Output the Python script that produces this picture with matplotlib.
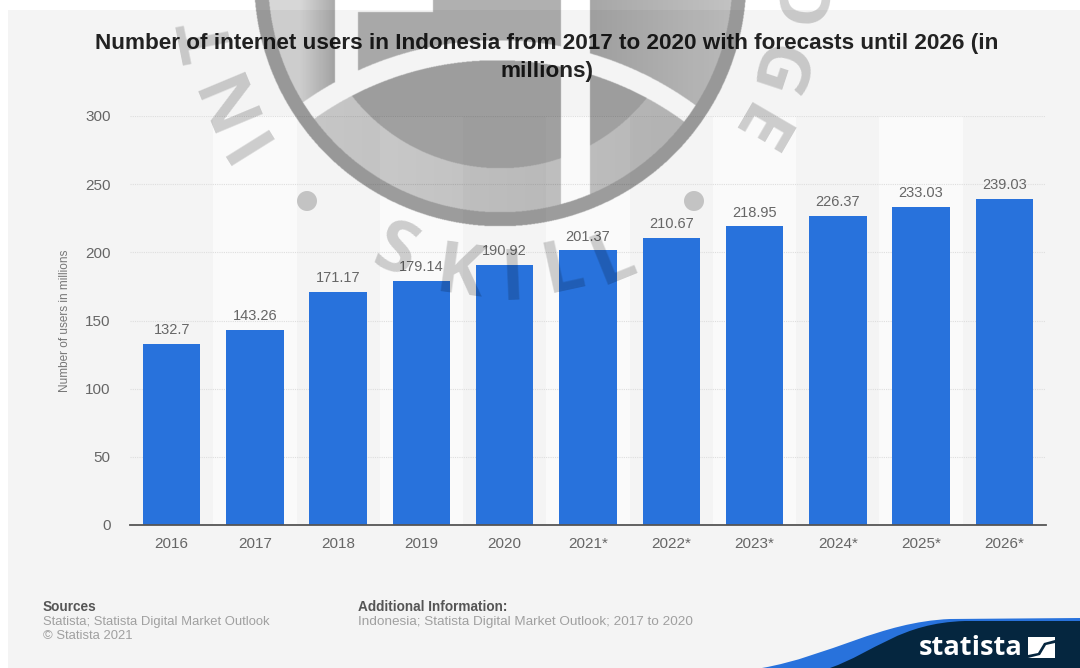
import numpy as np
import matplotlib
matplotlib.use('Agg')
import matplotlib.pyplot as plt
from matplotlib.patches import Rectangle, Polygon, PathPatch
from matplotlib.path import Path

years = ['2016', '2017', '2018', '2019', '2020', '2021*', '2022*', '2023*', '2024*', '2025*', '2026*']
users = [132.7, 143.26, 171.17, 179.14, 190.92, 201.37, 210.67, 218.95, 226.37, 233.03, 239.03]
value_labels = ['132.7', '143.26', '171.17', '179.14', '190.92', '201.37', '210.67', '218.95', '226.37', '233.03', '239.03']
y_ticks = [0, 50, 100, 150, 200, 250, 300]

W, H = 1080, 668
plt.rcParams['font.family'] = ['Liberation Sans', 'DejaVu Sans']
fig = plt.figure(figsize=(W / 100, H / 100), dpi=100, facecolor='white')

# page background, drawn in pixel coordinates
page = fig.add_axes([0, 0, 1, 1], zorder=0)
page.set_xlim(0, W)
page.set_ylim(H, 0)
page.axis('off')
page.add_patch(Rectangle((8, 10), W - 8, H - 10, color='#f4f4f4', lw=0))

# main chart
ax = fig.add_axes([130 / W, 1 - 525 / H, 916 / W, 409 / H], zorder=1)
ax.patch.set_alpha(0)
xs = np.arange(len(years))
for i in xs[1::2]:
    ax.axvspan(i - 0.5, i + 0.5, color='#fafafa', lw=0, zorder=0)
ax.bar(xs, users, width=0.69, color='#2872dc', zorder=3)
for x, v, lab in zip(xs, users, value_labels):
    ax.annotate(lab, (x, v), xytext=(0, 5), textcoords='offset points', ha='center', va='bottom',
                fontsize=10.5, color='#666666', zorder=4)
ax.set_xlim(-0.5, 10.5)
ax.set_ylim(0, 300)
ax.set_yticks(y_ticks)
ax.set_xticks(xs)
ax.set_xticklabels(years)
ax.tick_params(axis='both', length=0, labelsize=11, labelcolor='#666666')
ax.tick_params(axis='x', pad=9)
ax.tick_params(axis='y', pad=14)
ax.grid(axis='y', color='#dedede', lw=0.8, ls=(0, (1, 1)), zorder=1)
ax.set_axisbelow(True)
for s in ['top', 'right', 'left']:
    ax.spines[s].set_visible(False)
ax.spines['bottom'].set_color('#555555')
ax.spines['bottom'].set_linewidth(1.3)
ax.spines['bottom'].set_zorder(5)
ax.set_ylabel('Number of users in millions', fontsize=8.5, color='#777777')
ax.yaxis.set_label_coords(-0.064, 0.5)

# title and footer
front = fig.add_axes([0, 0, 1, 1], zorder=2)
front.set_xlim(0, W)
front.set_ylim(H, 0)
front.axis('off')
front.patch.set_alpha(0)
front.text(547, 43, 'Number of internet users in Indonesia from 2017 to 2020 with forecasts until 2026 (in',
           ha='center', va='center', fontsize=16.2, fontweight='bold', color='#222222')
front.text(547, 72, 'millions)', ha='center', va='center', fontsize=16.2, fontweight='bold', color='#222222')
front.text(43, 607, 'Sources', va='center', fontsize=9.8, fontweight='bold', color='#555555')
front.text(43, 622, 'Statista; Statista Digital Market Outlook', va='center', fontsize=9.4, color='#a0a0a0')
front.text(43, 636, '© Statista 2021', va='center', fontsize=9.4, color='#a0a0a0')
front.text(358, 607, 'Additional Information:', va='center', fontsize=9.8, fontweight='bold', color='#555555')
front.text(358, 622, 'Indonesia; Statista Digital Market Outlook; 2017 to 2020', va='center', fontsize=9.7, color='#a0a0a0')

# logo swoosh in the corner
blue_edge = Path([(762, 668), (830, 656), (880, 622), (950, 619), (1080, 618), (1080, 668), (762, 668)],
                 [Path.MOVETO, Path.CURVE4, Path.CURVE4, Path.CURVE4, Path.LINETO, Path.LINETO, Path.CLOSEPOLY])
navy_edge = Path([(830, 668), (875, 652), (900, 623), (965, 621), (1080, 621), (1080, 668), (830, 668)],
                 [Path.MOVETO, Path.CURVE4, Path.CURVE4, Path.CURVE4, Path.LINETO, Path.LINETO, Path.CLOSEPOLY])
front.add_patch(PathPatch(blue_edge, color='#2872dc', lw=0))
front.add_patch(PathPatch(navy_edge, color='#05263f', lw=0))
front.text(919, 648, 'statista', va='center', family='Open Sans', fontweight='bold', fontsize=19.6, color='white')
front.add_patch(Rectangle((1028, 637), 27, 21, color='white', lw=0))
front.add_patch(Polygon([(1028, 655), (1038, 653), (1044, 643), (1055, 640), (1055, 643), (1046, 645), (1040, 655), (1028, 658)],
                        color='#05263f', lw=0))

# grey emblem stamped over everything
gx, gy = np.meshgrid(np.arange(0, W, 0.5), np.arange(0, 240, 0.5))
r = np.hypot(gx - 500, gy + 20)
d = np.hypot(gx - 497, gy - 375)
a = np.zeros_like(gx)
a[r < 232] = (0.18 + 0.10 * (gx[r < 232] - 270) / 460)
a[(r >= 232) & (r < 246)] = 0.38
a[r < 188] = 0.36
above = d > 335
a[above & (r < 232) & (gx >= 358) & (gx < 561)] = 0.31
right = above & (r < 232) & (gx >= 590)
a[right] = 0.35 - 0.10 * (gx[right] - 590) / 130
left = above & (r < 232) & (gx < 335)
a[left] = 0.16 + 0.18 * np.clip((gx[left] - 300) / 35, 0, 1)
a[above & (gx >= 335) & (gx < 358)] = 0
a[(gy < 12) & (gx >= 335) & (gx < 433)] = 0
a[(d >= 315) & (d <= 335) & (r < 232)] = 0
a[(gx >= 561) & (gx < 590) & (r < 232)] = 0
rgba = np.zeros(gx.shape + (4,))
rgba[..., 3] = a
front.imshow(rgba, extent=(0, W, 240, 0), interpolation='bilinear', aspect='auto', zorder=6)
front.set_xlim(0, W)
front.set_ylim(H, 0)

# emblem lettering, upper letters have their tops facing outward
letters = [('I', 247, 138, True), ('N', 229, 93, True), ('T', 210, 38, True),
           ('S', 395, 253, False), ('K', 460, 275, False), ('I', 513, 280, False),
           ('L', 563, 270, False), ('L', 613, 260, False),
           ('E', 752, 127, True), ('G', 773, 70, True), ('D', 790, 5, True)]
for ch, lx, ly, outward in letters:
    rot = np.degrees(np.arctan2(lx - 500, ly + 20))
    if outward:
        rot = rot - 180 if rot > 0 else rot + 180
    front.text(lx, ly, ch, ha='center', va='center', rotation=rot, family='Open Sans', fontweight='bold',
               fontsize=52, color='black', alpha=0.18, zorder=7, clip_on=True)
for cx in (307, 694):
    front.add_patch(plt.Circle((cx, 201), 10, color='black', alpha=0.2, lw=0, zorder=7))

fig.savefig('out.png', dpi=100)
